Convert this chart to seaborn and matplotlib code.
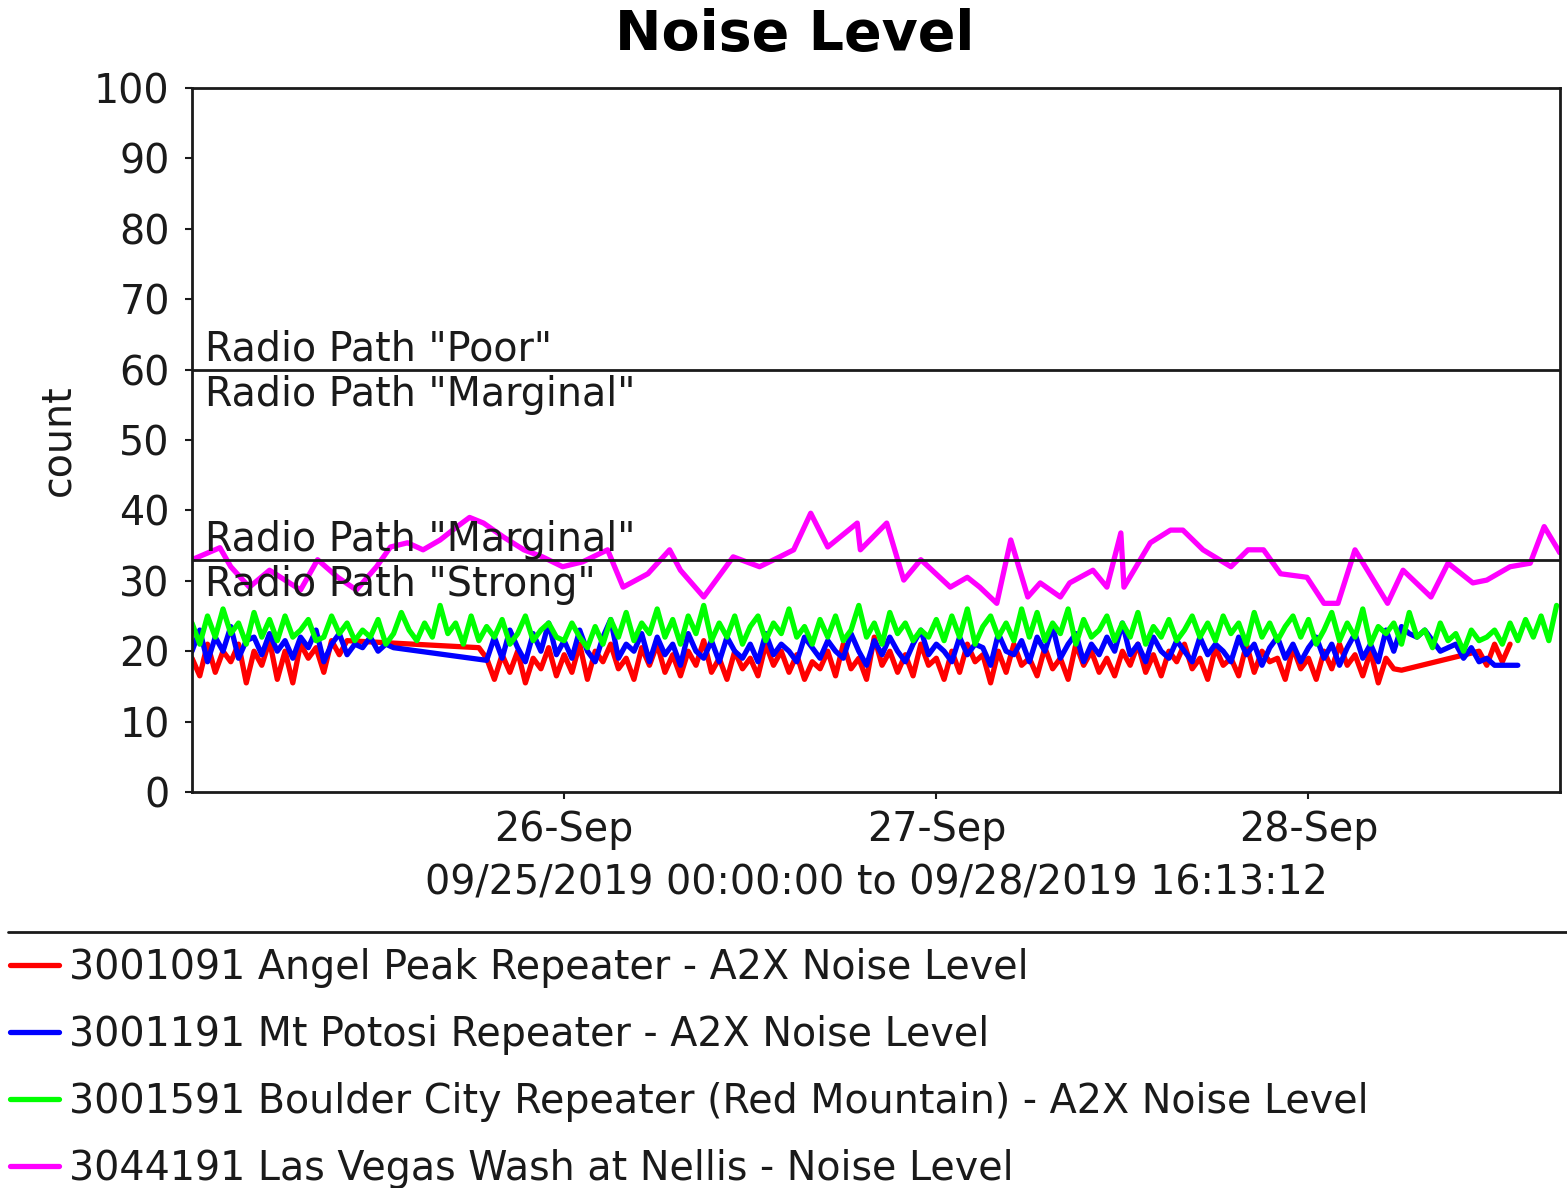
import pandas as pd
import numpy as np
import matplotlib.pyplot as plt
import matplotlib.dates as mdates
from matplotlib.lines import Line2D
import seaborn as sns

N = None

# half-hourly samples, 09/25 00:00 -> 09/28 16:00
red_vals = [
    19, 16.5, 21, 17, 20, 18.5, 21, 15.5, 20, 18, 21.5, 16,
    20, 15.5, 21, 19, 20.5, 17, 21.5, 19.5, 21.5, N, N, N,
    N, N, N, N, N, N, N, N, N, N, N, N,
    N, 20.5, 19, 16, 19.5, 17, 20, 15.5, 19, 17.5, 20.5, 16.5,
    19.5, 17, 21, 16, 20, 18.5, 21, 17.5, 19, 16, 20.5, 18,
    21, 17, 19.5, 16.5, 20, 18, 21.5, 17, 19, 16, 20, 17.5,
    19, 16.5, 21, 18, 20, 17, 19.5, 16, 18.5, 17.5, 20, 16.5,
    21, 17.5, 19, 16, 22, 18, 20, 17, 19.5, 16.5, 21, 18,
    19, 16, 20, 17, 21, 18.5, 19.5, 15.5, 20, 17, 21, 18,
    19, 16.5, 20.5, 17.5, 19, 16, 21, 18, 20, 17, 19, 16.5,
    20, 18, 21, 17, 19.5, 16.5, 20, 18.5, 21, 17.5, 19, 16,
    20.5, 18, 19, 16.5, 21, 17, 20, 18.5, 19, 16, 20.5, 17.5,
    19, 16, 20, 17.5, 21, 18, 19.5, 16.5, 20, 15.5, 19, 17.5,
    17.3, N, N, N, N, N, N, N, N, N, 20, 18,
    21, 18.5, 21, N, N, N, N, N, N,
]
blue_vals = [
    20, 23, 18.5, 22, 20, 23.5, 19, 21.5, 22, 19.5, 22.5, 20,
    21.5, 19, 22, 20.5, 23, 18.5, 21, 22.5, 19.5, 21, 20.5, 22,
    20, 21, 20.5, N, N, N, N, N, N, N, N, N,
    N, N, 18.7, 22, 19, 23, 20.5, 18.5, 22.5, 20, 24, 19.5,
    21.5, 19, 23, 20, 18.5, 22, 24.5, 19, 21, 20, 22.5, 18.5,
    22, 19.5, 21, 18, 22.5, 20, 19, 21.5, 18.5, 22, 20, 19,
    21, 18.5, 22.5, 19.5, 21, 20, 18.5, 22, 20.5, 19, 21.5, 20,
    19, 22.5, 20, 18, 21.5, 19.5, 22, 20, 18.5, 21, 23, 19.5,
    21, 20, 18.5, 22, 19.5, 21, 20.5, 18, 22.5, 20, 19.5, 21.5,
    18.5, 22, 20, 23.5, 19, 21, 22.5, 18.5, 21, 19.5, 22, 20,
    24, 19.5, 21, 18.5, 22, 20, 19, 21.5, 20, 18.5, 22, 19.5,
    21, 20, 18.5, 22, 19.5, 21, 18, 20.5, 22, 19, 21, 18.5,
    20.5, 22, 19, 21, 18, 20.5, 22.5, 19, 21, 18.5, 23, 20,
    23.5, 22.5, 22, 23, 21.5, 20, 20.5, 21, 19, 20.5, 18.5, 19,
    18, N, N, 18, N, N, N, N, N,
]
green_vals = [
    24, 21, 25, 22, 26, 22.5, 24, 21, 25.5, 22, 24.5, 21.5,
    25, 22, 23, 24.5, 21.5, 22, 25, 22.5, 24, 21.5, 23, 22,
    24.5, 21, 22.5, 25.5, 23, 21.5, 24, 22, 26.5, 22.5, 24, 21,
    25, 21.5, 23.5, 22, 24.5, 21, 22.5, 25, 21.5, 23, 24, 22,
    21.5, 24, 22, 20.5, 23.5, 21, 24.5, 22, 25.5, 21.5, 24, 22.5,
    26, 22, 24.5, 21, 25, 22.5, 26.5, 21.5, 24, 22, 25, 21,
    23.5, 25, 21.5, 24, 22.5, 26, 22, 23.5, 21, 24.5, 22, 25,
    21.5, 23, 26.5, 22, 24, 21, 25.5, 22.5, 24, 21.5, 23, 22,
    24.5, 21.5, 25, 22, 26, 21, 23.5, 25, 22, 24, 21.5, 26,
    22, 25.5, 21.5, 24, 22.5, 26, 21, 24.5, 22, 23, 25, 21.5,
    24, 22, 25.5, 21, 23.5, 22, 24.5, 21.5, 23, 25, 22, 24,
    21.5, 25, 22.5, 24, 21, 25.5, 22, 24, 21.5, 23.5, 25, 22,
    24.5, 21, 23, 25.5, 21.5, 24, 22, 26, 21, 23.5, 22.5, 24,
    21, 25.5, 22, 23, 20.5, 24, 21.5, 22.5, 20, 23, 21.5, 22,
    23, 21, 24, 21.5, 24.5, 22, 25, 21.5, 26.5,
]

# Las Vegas Wash is sampled irregularly (hours after 09/25 00:00)
magenta_hours = [
    0, 1.8, 2.5, 3.7, 5.0, 7.0, 8.1, 9.4, 10.6, 11.9, 12.8, 13.9, 14.9, 16.0,
    17.1, 17.9, 18.8, 20.1, 21.4, 22.6, 23.9, 25.2, 26.8, 27.8, 29.4, 30.8,
    31.5, 33.0, 34.9, 36.6, 37.9, 38.8, 39.9, 41.0, 42.9, 43.1, 44.8, 45.9,
    47.0, 48.9, 50.0, 50.8, 51.9, 52.8, 53.9, 54.7, 56.0, 56.6, 58.1, 59.0,
    59.9, 60.1, 61.8, 63.1, 63.9, 65.2, 67.0, 68.1, 69.1, 70.2, 71.9, 73.0,
    73.9, 75.0, 77.1, 78.1, 79.9, 81.0, 82.6, 83.5, 85.0, 86.3, 87.2, 88.1,
    88.2,
]
magenta_vals = [
    33, 34.7, 32, 29.1, 31.5, 28.7, 33, 30.5, 28.7, 32, 34.8, 35.4, 34.4, 35.8,
    37.7, 39, 38.2, 36.2, 34.4, 33.4, 32, 32.7, 34.4, 29.1, 31, 34.4,
    31.5, 27.7, 33.4, 32, 33.4, 34.4, 39.6, 34.8, 38.2, 34.4, 38.2, 30.1,
    33, 29.1, 30.5, 29.1, 26.8, 35.8, 27.7, 29.7, 27.7, 29.7, 31.5, 29.1,
    36.8, 29.1, 35.4, 37.2, 37.2, 34.4, 32, 34.4, 34.4, 31, 30.5, 26.8,
    26.8, 34.4, 26.8, 31.5, 27.7, 32.5, 29.7, 30.1, 32, 32.5, 37.7, 34.4,
    34,
]

labels = [
    "3001091 Angel Peak Repeater - A2X Noise Level",
    "3001191 Mt Potosi Repeater - A2X Noise Level",
    "3001591 Boulder City Repeater (Red Mountain) - A2X Noise Level",
    "3044191 Las Vegas Wash at Nellis - Noise Level",
]
colors = ["#ff0000", "#0000ff", "#00ff00", "#ff00ff"]
tick_days = ["2019-09-26", "2019-09-27", "2019-09-28"]

start = pd.Timestamp("2019-09-25 00:00:00")
end = pd.Timestamp("2019-09-28 16:13:12")
t_half = pd.date_range(start, periods=len(green_vals), freq="30min")
t_mag = start + pd.to_timedelta(magenta_hours, unit="h")

series = [
    pd.DataFrame({"time": t_half, "count": red_vals}),
    pd.DataFrame({"time": t_half, "count": blue_vals}),
    pd.DataFrame({"time": t_half, "count": green_vals}),
    pd.DataFrame({"time": t_mag, "count": magenta_vals}),
]

sns.set_style("ticks")
plt.rcParams["font.family"] = ["DejaVu Sans"]
FS = 28.5
INK = "#1a1a1a"

fig = plt.figure(figsize=(15.67, 11.88), dpi=100)
W, H = 1567, 1188
ax = fig.add_axes([192 / W, 1 - 792 / H, 1368 / W, 704 / H])

for df, lab, col in zip(series, labels, colors):
    df = df.astype({"count": float}).dropna()
    sns.lineplot(data=df, x="time", y="count", ax=ax, color=col, lw=3.8,
                 label=lab, estimator=None)

# threshold lines
ax.axhline(60, color=INK, lw=2)
ax.axhline(33, color=INK, lw=2)
tr = ax.get_yaxis_transform()
ax.text(0.0095, 60, 'Radio Path "Poor"', transform=tr, fontsize=FS, va="bottom", color=INK)
ax.text(0.0095, 59.3, 'Radio Path "Marginal"', transform=tr, fontsize=FS, va="top", color=INK)
ax.text(0.0095, 33, 'Radio Path "Marginal"', transform=tr, fontsize=FS, va="bottom", color=INK)
ax.text(0.0095, 32.3, 'Radio Path "Strong"', transform=tr, fontsize=FS, va="top", color=INK)

ax.set_xlim(start, end)
ax.set_ylim(0, 100)
ax.set_yticks(range(0, 101, 10))
ax.set_xticks(pd.to_datetime(tick_days))
ax.xaxis.set_major_formatter(mdates.DateFormatter("%d-%b"))
ax.tick_params(axis="both", labelsize=FS, width=1.5, length=5, color=INK, labelcolor=INK)
ax.tick_params(axis="y", pad=11)
ax.tick_params(axis="x", pad=8)
for s in ax.spines.values():
    s.set_linewidth(2)
    s.set_color(INK)

ax.set_ylabel("")
ax.set_xlabel("09/25/2019 00:00:00 to 09/28/2019 16:13:12", fontsize=FS, labelpad=10, color=INK)
fig.text(58 / W, 1 - 440 / H, "count", rotation=90, fontsize=FS, va="center", ha="center", color=INK)
fig.text(795 / W, 1 - 35 / H, "Noise Level", fontsize=40, fontweight="bold", va="center",
         ha="center", color="black")

# separator above the legend
fig.add_artist(Line2D([8 / W, 1], [1 - 932 / H, 1 - 932 / H], color=INK, lw=2))
leg = ax.legend(loc="upper left", bbox_to_anchor=(10 / W, 1 - 948 / H),
                bbox_transform=fig.transFigure, frameon=False, fontsize=FS,
                borderpad=0, borderaxespad=0, handlelength=1.25,
                handletextpad=0.25, labelspacing=0.68)
for h in leg.get_lines():
    h.set_linewidth(3.8)
for t in leg.get_texts():
    t.set_color(INK)

fig.savefig("out.png", dpi=100)
